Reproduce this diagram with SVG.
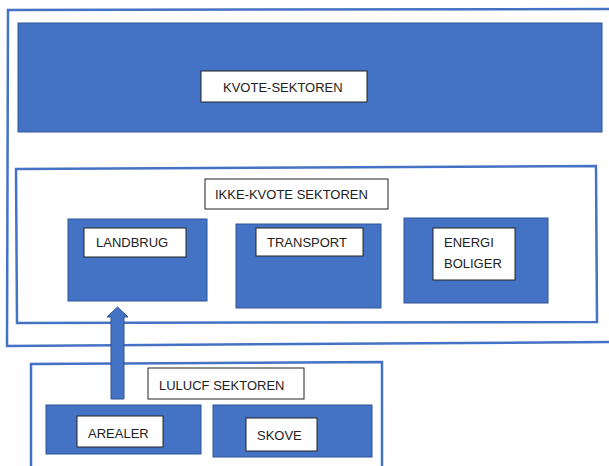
<svg xmlns="http://www.w3.org/2000/svg" width="609" height="466" viewBox="0 0 609 466">
<style>
.frame{fill:none;stroke:#4472C4;stroke-width:2.5}
.blue{fill:#4472C4;stroke:#2F5597;stroke-width:1}
.lbl{fill:#fff;stroke:#222;stroke-width:1}
text{font-family:"Liberation Sans",Arial,sans-serif;font-size:13px;fill:#222}
</style>
<rect width="609" height="466" fill="#fff"/>
<g id="frame-outer"><path class="frame" d="M609 9 L8 10 L7 346 L609 342"/></g>
<g id="kvote">
<rect class="blue" x="18" y="23" width="584" height="109"/>
<rect class="lbl" x="201" y="71" width="166" height="31"/>
<text x="223" y="92">KVOTE-SEKTOREN</text>
</g>
<g id="ikke-kvote">
<path class="frame" d="M16 169 L596 166 L597 322 L17 323 Z"/>
<rect class="lbl" x="205" y="179" width="183" height="30"/>
<text x="215" y="199">IKKE-KVOTE SEKTOREN</text>
</g>
<g id="landbrug">
<rect class="blue" x="68" y="219" width="139" height="82"/>
<rect class="lbl" x="84" y="228" width="102" height="29"/>
<text x="96" y="247">LANDBRUG</text>
</g>
<g id="transport">
<rect class="blue" x="236" y="224" width="145" height="84"/>
<rect class="lbl" x="256" y="228" width="107" height="28"/>
<text x="267" y="247">TRANSPORT</text>
</g>
<g id="energi">
<rect class="blue" x="404" y="218" width="144" height="85"/>
<rect class="lbl" x="433" y="228" width="82" height="52"/>
<text x="444" y="247">ENERGI</text>
<text x="444" y="268">BOLIGER</text>
</g>
<g id="lulucf">
<path class="frame" d="M31 466 L31 364 L382 362 L382 466"/>
<rect class="lbl" x="148" y="368" width="156" height="31"/>
<text x="159" y="390">LULUCF SEKTOREN</text>
</g>
<g id="arealer">
<rect class="blue" x="46" y="405" width="155" height="49"/>
<rect class="lbl" x="77" y="416" width="86" height="31"/>
<text x="88" y="438">AREALER</text>
</g>
<g id="skove">
<rect class="blue" x="213" y="405" width="159" height="52"/>
<rect class="lbl" x="246" y="418" width="71" height="33"/>
<text x="257" y="440">SKOVE</text>
</g>
<g id="connectors">
<path class="blue" d="M111 399 L111 317 L107 317 L117.5 307 L128 317 L124 317 L124 399 Z"/>
</g>
</svg>
